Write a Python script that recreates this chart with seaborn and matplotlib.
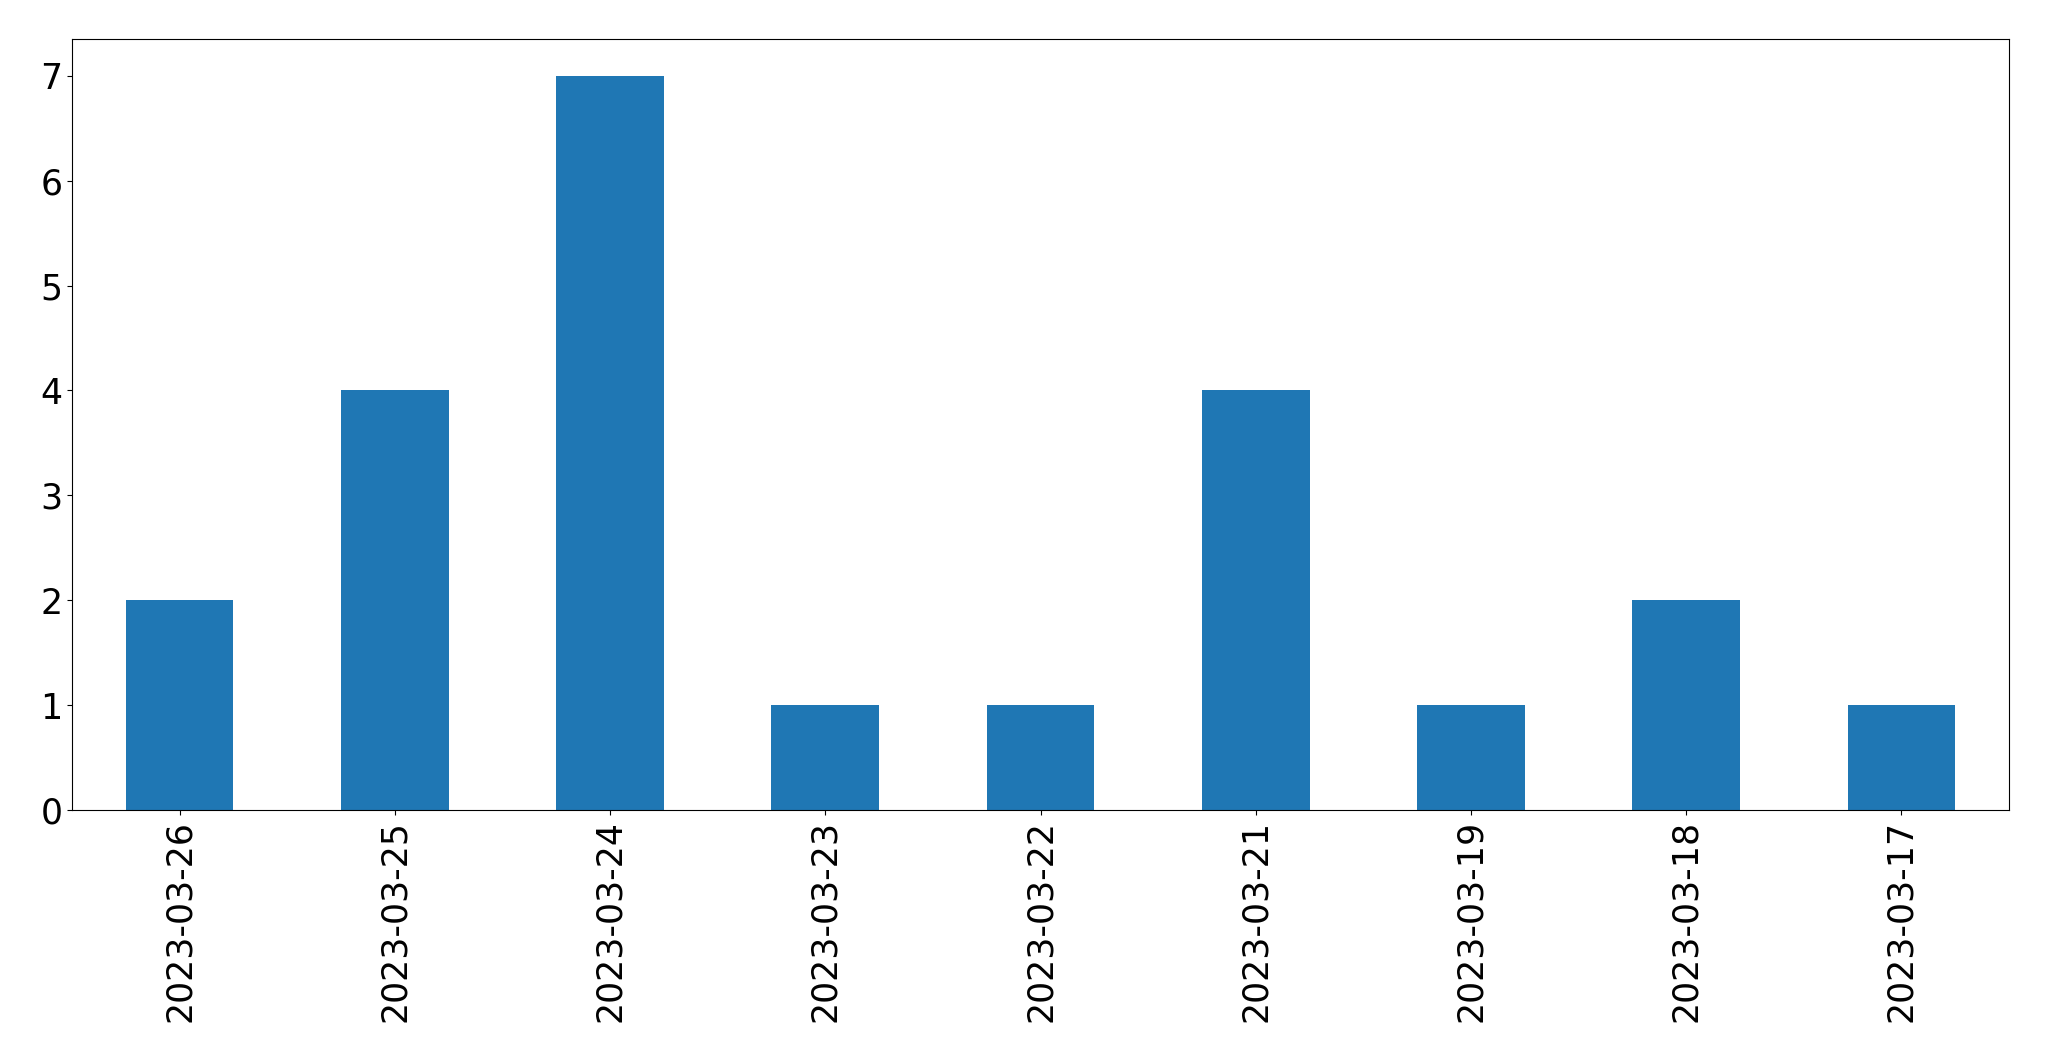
import matplotlib
matplotlib.use("Agg")
import matplotlib.pyplot as plt
import seaborn as sns
import pandas as pd

dates = ["2023-03-26", "2023-03-25", "2023-03-24", "2023-03-23", "2023-03-22",
         "2023-03-21", "2023-03-19", "2023-03-18", "2023-03-17"]
counts = [2, 4, 7, 1, 1, 4, 1, 2, 1]

df = pd.DataFrame({"date": dates, "count": counts})

fig = plt.figure(figsize=(20.49, 10.61), dpi=100)
ax = fig.add_axes([72/2049, 1 - 810/1061, (2009-72)/2049, (810-39)/1061])
sns.barplot(data=df, x="date", y="count", order=dates, color="#1f77b4",
            saturation=1, width=0.5, ax=ax)
ax.set_xlim(-0.5, len(dates) - 0.5)
ax.set_ylim(0, 7.35)
ax.set_xlabel("")
ax.set_ylabel("")
ax.tick_params(axis="both", labelsize=25)
ax.tick_params(axis="x", labelrotation=90)
fig.savefig("out.png", dpi=100)
